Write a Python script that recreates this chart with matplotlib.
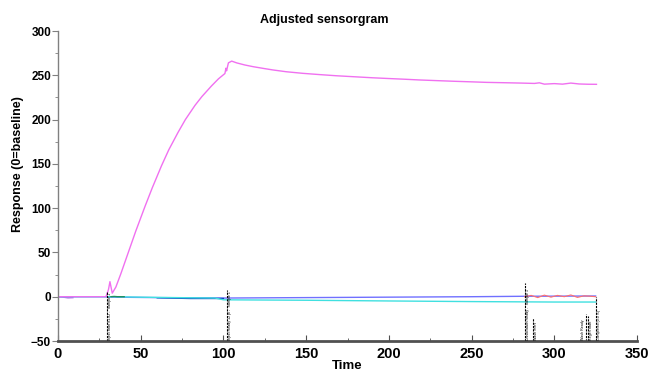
import numpy as np
import matplotlib
matplotlib.use("Agg")
import matplotlib.pyplot as plt
from matplotlib.ticker import MultipleLocator

plt.rcParams["font.family"] = ["Liberation Sans", "DejaVu Sans"]

# ── Datos ──────────────────────────────────────────────────────────────────
# Curva principal (magenta): asociación + disociación
t_main = [0, 10, 20, 29, 30.5, 31.4, 32.8, 35, 38, 42.5, 47, 52.6, 57, 62.6, 67,
          72.7, 77, 82.8, 87, 92.8, 97, 100.9, 101.5, 101.9, 103, 105, 108, 113,
          118, 125, 130, 138, 148, 158, 168, 178.5, 190, 198, 210, 218.7, 230,
          240, 250, 259, 270, 280, 288, 291, 294, 300, 305, 310, 315, 320, 325.5]
r_main = [0, 0, 0, 0, 8, 17, 4, 11, 26, 50, 74, 102, 123, 148, 166,
          186, 200, 216, 226, 238, 246, 252, 258, 255, 264, 266, 264, 261.6,
          259.7, 257.5, 256, 254, 252.2, 250.8, 249.5, 248.4, 247.2, 246.5, 245.5, 244.7, 243.9,
          243.2, 242.6, 242, 241.6, 241.2, 240.8, 241.5, 240, 240.6, 240, 241.2, 240.2, 239.9, 239.8]

# Otras curvas cercanas a cero
t_blue = [0, 30, 33, 60, 100, 150, 200, 250, 282, 325]
r_blue = [0, 0, -0.5, -1, -1.5, -1, -0.5, 0, 0.5, 0.8]

t_cyan = [0, 30, 33, 60, 95, 100, 150, 200, 250, 300, 325]
r_cyan = [0, 0, 0, -0.8, -1.5, -3.5, -4, -4.8, -5.5, -6, -6]

t_dblue = [60, 70, 80, 100]
r_dblue = [-1.2, -1.6, -2, -2]

t_green = [32, 34, 36, 40]
r_green = [0, 0.3, 0, 0]

t_purple = [0, 3, 6, 9]
r_purple = [0, -0.5, -1.2, -1]

t_red = [282, 286, 290, 294, 298, 302, 306, 310, 314, 318, 322, 325]
r_red = [0, 1.5, -1, 1.8, -0.5, 1.5, 0, 2, -0.8, 1, 0.5, 0]

# Marcadores de eventos: tiempo, altura superior, etiqueta, lado del texto
ev_t = [29.8, 101.9, 282.2, 287.2, 319.0, 320.4, 325.0]
ev_top = [6, 8, 16, -24, -20, -22, 0]
ev_lbl = ["Inject Start 81.82 - \"Sample 1\"", "Inject Ready 12 pl - \"Sample 1\"",
          "Dissociation Ready - \"Sample 1\"", "Wash Start", "Wash Ready",
          "Regen Start", "Completed (0.0 %)"]
ev_side = ["right", "right", "right", "right", "left", "right", "right"]

# ── Figura ─────────────────────────────────────────────────────────────────
fig = plt.figure(figsize=(6.51, 3.74), dpi=100)
ax = fig.add_axes([58 / 651, 1 - 341 / 374, (637 - 58) / 651, (341 - 31) / 374])

ax.plot(t_purple, r_purple, color="#b050e0", lw=1)
ax.plot(t_blue, r_blue, color="#7070ff", lw=1)
ax.plot(t_dblue, r_dblue, color="#1040c0", lw=1)
ax.plot(t_cyan, r_cyan, color="#40e0e0", lw=1)
ax.plot(t_green, r_green, color="#209060", lw=1)
ax.plot(t_red, r_red, color="#ff7070", lw=0.8)
ax.plot(t_main, r_main, color="#f070f0", lw=1)

for t, top, lbl, side in zip(ev_t, ev_top, ev_lbl, ev_side):
    ax.plot([t, t], [-50, top], color="black", lw=0.8, ls=(0, (2, 1)))
    if side == "right":
        ax.text(t + 0.6, -49, lbl, rotation=90, fontsize=2.6, color="black",
                va="bottom", ha="left")
    else:
        ax.text(t - 0.6, -49, lbl, rotation=90, fontsize=2.6, color="black",
                va="bottom", ha="right")

ax.set_xlim(0, 350)
ax.set_ylim(-50, 300)
ax.xaxis.set_major_locator(MultipleLocator(50))
ax.xaxis.set_minor_locator(MultipleLocator(25))
ax.yaxis.set_major_locator(MultipleLocator(50))
ax.yaxis.set_minor_locator(MultipleLocator(25))

ax.spines["top"].set_visible(False)
ax.spines["right"].set_visible(False)
ax.spines["bottom"].set_color("#505050")
ax.spines["bottom"].set_linewidth(2)
ax.spines["left"].set_color("#808080")
ax.spines["left"].set_linewidth(1)

ax.tick_params(axis="x", which="both", direction="in", colors="#505050", labelcolor="black")
ax.tick_params(axis="x", which="major", length=4, labelsize=10.5, pad=4)
ax.tick_params(axis="x", which="minor", length=2.5)
ax.tick_params(axis="y", which="both", direction="out", colors="#808080", labelcolor="black")
ax.tick_params(axis="y", which="major", length=4, labelsize=8.5, pad=1)
ax.tick_params(axis="y", which="minor", length=2)
for lb in ax.get_xticklabels() + ax.get_yticklabels():
    lb.set_fontweight("bold")

fig.text(0.498, 0.947, "Adjusted sensorgram", ha="center", va="center",
         fontsize=9, fontweight="bold")
fig.text(0.028, 0.56, "Response (0=baseline)", ha="center", va="center",
         rotation=90, fontsize=9, fontweight="bold")
fig.text(347 / 651, 1 - 366 / 374, "Time", ha="center", va="center",
         fontsize=9.5, fontweight="bold")

fig.savefig("out.png", dpi=100)
